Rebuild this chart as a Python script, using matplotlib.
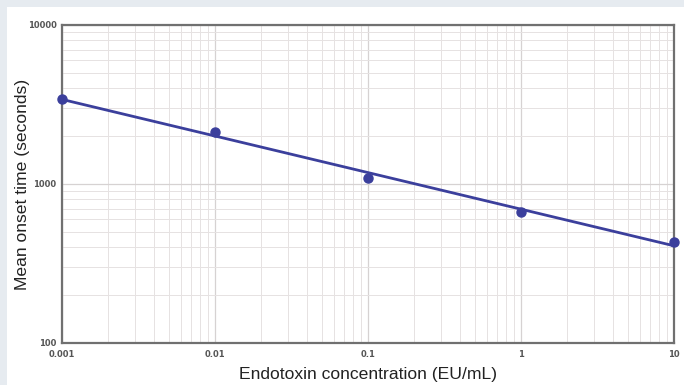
import numpy as np
import matplotlib.pyplot as plt
from matplotlib.patches import Rectangle

# Data
conc = [0.001, 0.01, 0.1, 1, 10]
onset = [3430, 2120, 1090, 667, 432]

# Log-log regression line through the points
slope, icpt = np.polyfit(np.log10(conc), np.log10(onset), 1)
xfit = np.array([conc[0], conc[-1]])
yfit = 10 ** (icpt + slope * np.log10(xfit))

fig = plt.figure(figsize=(6.84, 3.85), dpi=100)
fig.patch.set_facecolor('#e6ebf0')
fig.patches.append(Rectangle((7 / 684, 0), 1, 1 - 7 / 385, transform=fig.transFigure,
                             facecolor='white', edgecolor='none', zorder=-1))

ax = fig.add_axes([62 / 684, 1 - 343 / 385, 612 / 684, 318 / 385])
ax.set_xscale('log')
ax.set_yscale('log')
ax.set_xlim(0.001, 10)
ax.set_ylim(100, 10000)

ax.grid(True, which='major', color='#d6d2d2', linewidth=0.9)
ax.grid(True, which='minor', color='#e6e2e2', linewidth=0.7)
ax.set_axisbelow(True)

line_color = '#3b3f9c'
ax.plot(xfit, yfit, color=line_color, linewidth=2, zorder=3)
ax.plot(conc, onset, 'o', color=line_color, markersize=6.5, zorder=4, clip_on=False)

for s in ax.spines.values():
    s.set_color('#707070')
    s.set_linewidth(1.6)

ax.set_xticks(conc)
ax.set_xticklabels(['0.001', '0.01', '0.1', '1', '10'])
ax.set_yticks([100, 1000, 10000])
ax.set_yticklabels(['100', '1000', '10000'])
ax.tick_params(which='both', length=0, labelsize=6, colors='#555555')
ax.tick_params(axis='x', pad=5)
ax.tick_params(axis='y', pad=4)
for t in ax.get_xticklabels() + ax.get_yticklabels():
    t.set_fontweight('bold')

ax.set_xlabel('Endotoxin concentration (EU/mL)', fontsize=12.6, color='#222222',
              labelpad=6, family='Liberation Sans')
ax.set_ylabel('Mean onset time (seconds)', fontsize=12.6, color='#222222',
              labelpad=-2, family='Liberation Sans')

fig.savefig('out.png', dpi=100, facecolor=fig.get_facecolor())
